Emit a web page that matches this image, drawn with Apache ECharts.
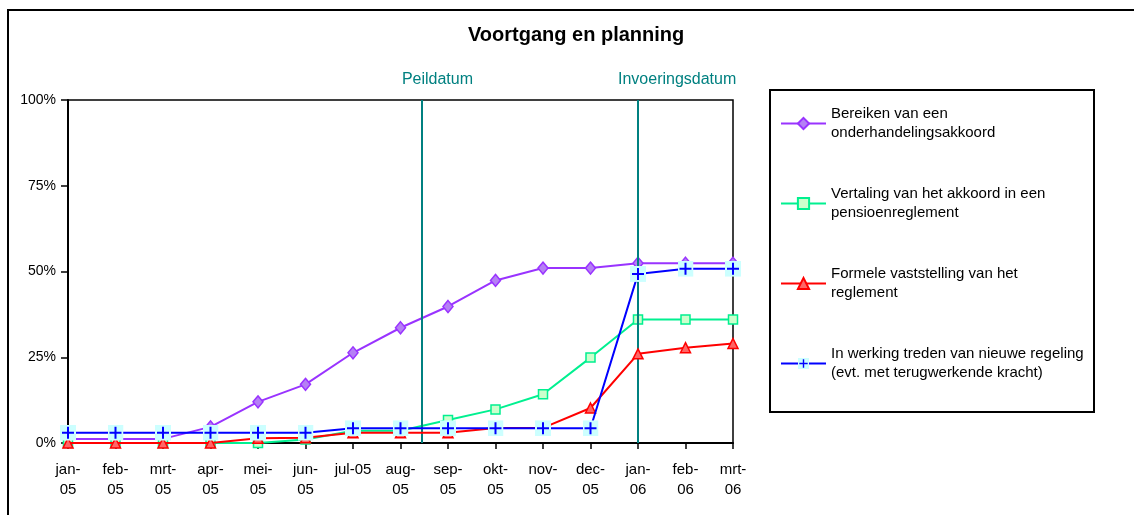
<!DOCTYPE html>
<html>
<head>
<meta charset="utf-8">
<script src="https://cdn.jsdelivr.net/npm/echarts@6/dist/echarts.min.js"></script>
<style>html,body{margin:0;padding:0;background:#fff}#c{width:1134px;height:515px}</style>
</head>
<body>
<div id="c"></div>
<script>
var categories = ['jan-\n05','feb-\n05','mrt-\n05','apr-\n05','mei-\n05','jun-\n05','jul-05','aug-\n05','sep-\n05','okt-\n05','nov-\n05','dec-\n05','jan-\n06','feb-\n06','mrt-\n06'];
var seriesNames = ['Bereiken van een onderhandelingsakkoord','Vertaling van het akkoord in een pensioenreglement','Formele vaststelling van het reglement','In werking treden van nieuwe regeling (evt. met terugwerkende kracht)'];
var legendLabels = ['Bereiken van een\nonderhandelingsakkoord','Vertaling van het akkoord in een\npensioenreglement','Formele vaststelling van het\nreglement','In werking treden van nieuwe regeling\n(evt. met terugwerkende kracht)'];
var bereiken  = [1.2, 1.2, 1.2, 4.7, 12.0, 17.1, 26.3, 33.6, 39.8, 47.4, 51.0, 51.0, 52.4, 52.4, 52.4];
var vertaling = [0, 0, 0, 0, 0, 1.0, 3.6, 3.6, 6.7, 9.8, 14.2, 24.9, 36.0, 36.0, 36.0];
var formele   = [0, 0, 0, 0, 1.4, 1.5, 3.0, 3.0, 3.0, 4.4, 4.4, 10.2, 26.0, 27.8, 29.0];
var inwerking = [3.0, 3.0, 3.0, 3.0, 3.0, 3.0, 4.3, 4.3, 4.3, 4.3, 4.3, 4.3, 49.3, 50.8, 50.8];
var yTicks = [0, 25, 50, 75, 100];
var markers = [{name: 'Peildatum', pos: 7.45}, {name: 'Invoeringsdatum', pos: 12}];

var plusSvg = "<svg xmlns='http://www.w3.org/2000/svg' width='16' height='16'><rect width='16' height='16' fill='#ccffff'/><path d='M8 2V14M2 8H14' stroke='#0000ff' stroke-width='2'/></svg>";
var plusSymbol = 'image://data:image/svg+xml;charset=utf-8,' + encodeURIComponent(plusSvg);
var FONT = 'Liberation Sans, Arial, sans-serif';
var TEAL = '#008080';

var chart = echarts.init(document.getElementById('c'), null, {renderer: 'canvas'});
var legendMap = {};
seriesNames.forEach(function (n, i) { legendMap[n] = legendLabels[i]; });

function lineSeries(name, data, lineColor, symbol, size, fill, border, z) {
  return {
    name: name, type: 'line', data: data, symbol: symbol, symbolSize: size,
    showAllSymbol: true, z: z,
    lineStyle: {color: lineColor, width: 2},
    itemStyle: {color: fill, borderColor: border, borderWidth: 1.5},
    emphasis: {disabled: true}
  };
}

var option = {
  animation: false,
  backgroundColor: '#fff',
  textStyle: {fontFamily: FONT},
  title: {
    text: 'Voortgang en planning', left: 468, top: 25, padding: 0,
    textStyle: {fontFamily: FONT, fontSize: 20, fontWeight: 'bold', color: '#000'}
  },
  legend: {
    orient: 'vertical', left: 780, top: 95, padding: 0, itemWidth: 45, itemHeight: 14, itemGap: 23,
    data: seriesNames,
    formatter: function (n) { return legendMap[n]; },
    textStyle: {fontFamily: FONT, fontSize: 15, color: '#000', lineHeight: 19, padding: [19, 0, 0, 0]},
    selectedMode: false
  },
  grid: {left: 68, top: 100, right: 401, bottom: 72, show: true, borderColor: '#000', borderWidth: 1.5, backgroundColor: '#fff'},
  xAxis: [{
    type: 'category', data: categories, boundaryGap: false,
    axisLine: {lineStyle: {color: '#000', width: 2}},
    axisTick: {show: true, length: 6, lineStyle: {color: '#000', width: 1.5}},
    axisLabel: {interval: 0, fontFamily: FONT, fontSize: 15, color: '#000', lineHeight: 20, margin: 17},
    splitLine: {show: false}
  }, {
    type: 'value', min: 0, max: categories.length - 1, show: false
  }],
  yAxis: {
    type: 'value', min: yTicks[0], max: yTicks[yTicks.length - 1], interval: 25,
    axisLine: {show: true, lineStyle: {color: '#000', width: 2}},
    axisTick: {show: true, length: 7, lineStyle: {color: '#000', width: 1.5}},
    axisLabel: {formatter: '{value}%', fontFamily: FONT, fontSize: 14, color: '#000', margin: 12},
    splitLine: {show: false}
  },
  series: [
    lineSeries(seriesNames[0], bereiken, '#9933ff', 'diamond', [10, 12], '#b580f5', '#9933ff', 3),
    lineSeries(seriesNames[1], vertaling, '#00f090', 'rect', 9, '#ccffcc', '#00f090', 4),
    lineSeries(seriesNames[2], formele, '#ff0000', 'triangle', 10, '#ff6666', '#ff0000', 5),
    lineSeries(seriesNames[3], inwerking, '#0000ff', plusSymbol, 16, '#ccffff', '#0000ff', 6),
    {
      name: 'markers', type: 'line', xAxisIndex: 1, data: [], z: 2,
      markLine: {
        silent: true, symbol: 'none', animation: false,
        lineStyle: {color: TEAL, width: 2, type: 'solid'},
        label: {show: false},
        data: markers.map(function (m) { return {xAxis: m.pos}; })
      }
    }
  ]
};
chart.setOption(option);

var graphics = [
  {type: 'rect', shape: {x: 8, y: 10, width: 1140, height: 520}, style: {fill: 'none', stroke: '#000', lineWidth: 2}, z: 100},
  {type: 'rect', shape: {x: 770, y: 90, width: 324, height: 322}, style: {fill: 'none', stroke: '#000', lineWidth: 2}, z: 100}
];
markers.forEach(function (m) {
  var px = chart.convertToPixel({xAxisIndex: 1}, m.pos);
  graphics.push({
    type: 'text', x: px - 20, y: 80, z: 100,
    style: {text: m.name, fill: TEAL, font: '16px ' + FONT, textAlign: 'left', textVerticalAlign: 'middle'}
  });
});
chart.setOption({graphic: graphics});
</script>
</body>
</html>
